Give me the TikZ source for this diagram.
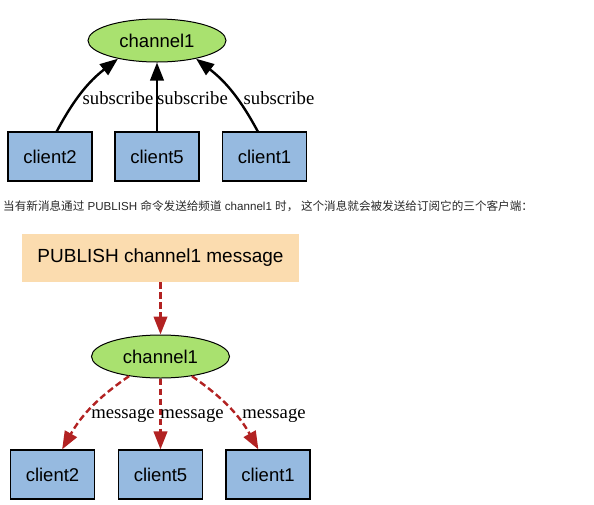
\documentclass[tikz,border=0pt]{standalone}
\usepackage{fontspec}
\setmainfont{Liberation Serif}
\setsansfont{Liberation Sans}
\newfontfamily\cjk{Noto Sans CJK SC}
\usetikzlibrary{arrows.meta,shapes.geometric,positioning}
\definecolor{chgreen}{RGB}{169,225,111}
\definecolor{cliblue}{RGB}{150,186,224}
\definecolor{pubpeach}{RGB}{251,220,175}
\definecolor{msgred}{RGB}{178,34,34}
\definecolor{notegray}{RGB}{40,40,40}
\tikzset{
  chan/.style={ellipse,draw,line width=1pt,fill=chgreen,minimum width=138pt,
    minimum height=43pt,inner sep=0pt,font=\sffamily\fontsize{18.5}{20}\selectfont},
  client/.style={rectangle,draw,line width=1.2pt,fill=cliblue,minimum width=84pt,
    minimum height=49pt,inner sep=0pt,font=\sffamily\fontsize{18.5}{20}\selectfont},
  pubbox/.style={rectangle,fill=pubpeach,minimum width=277pt,minimum height=48pt,
    inner sep=0pt,font=\sffamily\fontsize{19}{21}\selectfont},
  sub/.style={-{Triangle[length=18pt,width=13.5pt]},line width=2.4pt},
  msg/.style={sub,color=msgred,dash pattern=on 6.5pt off 3.5pt},
  lbl/.style={inner sep=0pt,font=\fontsize{18.7}{20}\selectfont}
}
\begin{document}
\begin{tikzpicture}[x=1pt,y=1pt]
  \useasboundingbox (0,0) rectangle (594,-504);
  % subscribe
  \node[chan] (ch1) at (157,-40.5) {channel1};
  \node[client] (c2t) at (50,-156.5) {client2};
  \node[client] (c5t) at (157,-156.5) {client5};
  \node[client] (c1t) at (264.5,-156.5) {client1};
  \draw[sub] (c2t.75) to[bend left=12] (ch1.205);
  \draw[sub] (c5t.north) -- (ch1.south);
  \draw[sub] (c1t.105) to[bend right=12] (ch1.335);
  \node[lbl] (s2) at (118,-98) {subscribe};
  \node[lbl] (s5) at (192.5,-98) {subscribe};
  \node[lbl] (s1) at (279,-98) {subscribe};
  % note
  \node[anchor=west,inner sep=0pt,text=notegray,font=\sffamily\fontsize{11.6}{13}\selectfont] (note) at (3,-206)
    {{\cjk 当有新消息通过} PUBLISH {\cjk 命令发送给频道} channel1 {\cjk 时，~这个消息就会被发送给订阅它的三个客户端：}};
  % publish
  \node[pubbox] (pub) at (160.5,-258) {PUBLISH channel1 message};
  \node[chan] (ch2) at (160.5,-356.5) {channel1};
  \node[client] (c2b) at (52.5,-474.5) {client2};
  \node[client] (c5b) at (160.5,-474.5) {client5};
  \node[client] (c1b) at (268,-474.5) {client1};
  \draw[msg] (pub.south) -- (ch2.north);
  \draw[msg] (ch2.212) to[bend right=13] (c2b.69);
  \draw[msg] (ch2.south) -- (c5b.north);
  \draw[msg] (ch2.328) to[bend left=13] (c1b.111);
  \node[lbl] (m2) at (123,-416) {message};
  \node[lbl] (m5) at (192,-416) {message};
  \node[lbl] (m1) at (274,-416) {message};
\end{tikzpicture}
\end{document}
